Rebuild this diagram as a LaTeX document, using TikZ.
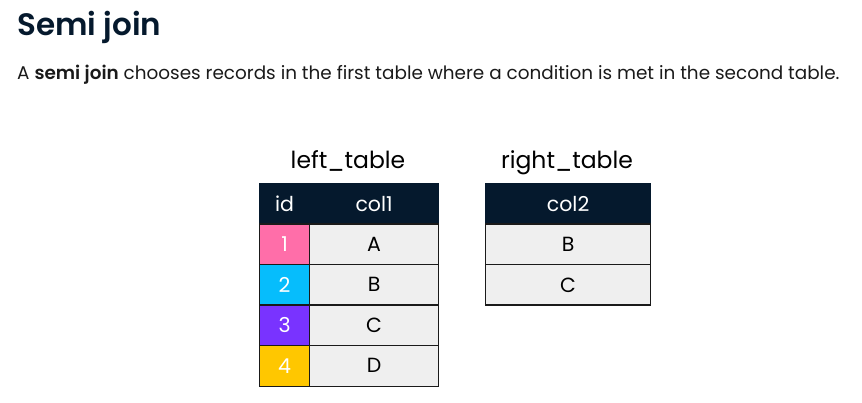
\documentclass[tikz,border=0pt]{standalone}
\usepackage{fontspec}
\setmainfont{Poppins}
\newfontfamily\titlefont{Poppins SemiBold}
\definecolor{navy}{HTML}{05192D}
\definecolor{cellgray}{HTML}{EFEFEF}
\definecolor{idpink}{HTML}{FF6EA9}
\definecolor{idblue}{HTML}{06BDFC}
\definecolor{idpurple}{HTML}{7933FF}
\definecolor{idyellow}{HTML}{FFC700}
\definecolor{txt}{HTML}{1A1A1A}
\begin{document}
\begin{tikzpicture}[x=1pt,y=-1pt,
  cell/.style={draw=txt,line width=1.2pt,fill=cellgray,minimum height=40.5pt,inner sep=0pt,anchor=north west,font=\fontsize{20.5}{24}\selectfont,text=black},
  head/.style={cell,fill=navy,draw=navy,text=white},
  idcell/.style={cell,text=white,minimum width=50pt},
  lab/.style={font=\fontsize{23.5}{26}\selectfont,text=black}]
\useasboundingbox (0,0) rectangle (862,403);
\node[anchor=base west,font=\fontsize{31}{34}\titlefont,text=navy,inner sep=0pt] (title) at (17,36) {Semi join};
\node[anchor=base west,font=\fontsize{18.4}{22}\selectfont,text=txt,inner sep=0pt] (sub) at (17,80) {A {\titlefont semi join} chooses records in the first table where a condition is met in the second table.};
% left table
\node[head,minimum width=50pt] (hid) at (259,183) {id};
\node[head,minimum width=129pt] (hcol1) at (309,183) {col1};
\node[idcell,fill=idpink] (id1) at (259,223.5) {1};
\node[cell,minimum width=129pt] (c1) at (309,223.5) {A};
\node[idcell,fill=idblue] (id2) at (259,264) {2};
\node[cell,minimum width=129pt] (c2) at (309,264) {B};
\node[idcell,fill=idpurple] (id3) at (259,304.5) {3};
\node[cell,minimum width=129pt] (c3) at (309,304.5) {C};
\node[idcell,fill=idyellow] (id4) at (259,345) {4};
\node[cell,minimum width=129pt] (c4) at (309,345) {D};
% right table
\node[head,minimum width=165pt] (hcol2) at (485,183) {col2};
\node[cell,minimum width=165pt] (r1) at (485,223.5) {B};
\node[cell,minimum width=165pt] (r2) at (485,264) {C};
% labels
\node[lab,anchor=base] (ltab) at (348,169) {left\_table};
\node[lab,anchor=base] (rtab) at (567,169) {right\_table};
\end{tikzpicture}
\end{document}
